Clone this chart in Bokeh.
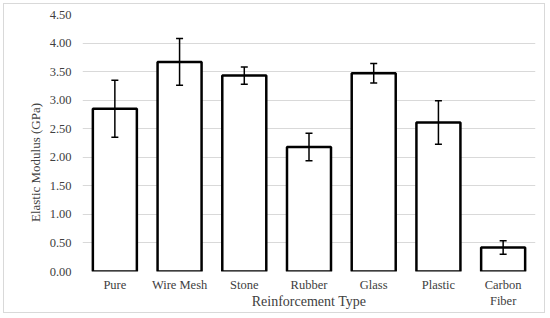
from bokeh.plotting import figure
from bokeh.models import ColumnDataSource, Whisker, TeeHead, FixedTicker, NumeralTickFormatter, Range1d
from bokeh.embed import file_html
from bokeh.resources import INLINE

categories = ["Pure", "Wire Mesh", "Stone", "Rubber", "Glass", "Plastic", "Carbon Fiber"]
tick_labels = ["Pure", "Wire Mesh", "Stone", "Rubber", "Glass", "Plastic", "Carbon\nFiber"]
modulus = [2.85, 3.67, 3.43, 2.18, 3.47, 2.61, 0.42]
error = [0.50, 0.41, 0.15, 0.24, 0.17, 0.38, 0.12]
y_ticks = [0.0, 0.5, 1.0, 1.5, 2.0, 2.5, 3.0, 3.5, 4.0, 4.5]

xpos = [i + 0.5 for i in range(len(categories))]
upper = [m + e for m, e in zip(modulus, error)]
lower = [m - e for m, e in zip(modulus, error)]
src = ColumnDataSource(dict(x=xpos, top=modulus, upper=upper, lower=lower))

p = figure(width=542, height=310, x_range=Range1d(0, len(categories)),
           y_range=Range1d(0, 4.5), output_backend="svg", toolbar_location=None,
           min_border_left=78, min_border_right=11, min_border_top=10, min_border_bottom=43)
p.margin = (3, 0, 0, 3)
p.styles = {"border": "1px solid #d9d9d9", "box-sizing": "border-box"}
p.outline_line_color = None
p.background_fill_color = "white"

p.vbar(x="x", top="top", width=0.68, source=src, fill_color="white",
       line_color="black", line_width=2.5)

w = Whisker(base="x", upper="upper", lower="lower", source=src, line_color="black", line_width=1.5,
            level="overlay",
            upper_head=TeeHead(size=7, line_color="black", line_width=1.5),
            lower_head=TeeHead(size=7, line_color="black", line_width=1.5))
p.add_layout(w)

font = "Liberation Serif"
txt = "#404040"

p.yaxis.ticker = FixedTicker(ticks=y_ticks)
p.yaxis.formatter = NumeralTickFormatter(format="0.00")
p.yaxis.axis_label = "Elastic Modulus (GPa)" + "\u00a0" * 12
p.yaxis.axis_label_standoff = 4
p.yaxis.major_label_standoff = 5

p.xaxis.ticker = FixedTicker(ticks=xpos)
p.xaxis.major_label_overrides = {x: t for x, t in zip(xpos, tick_labels)}
p.xaxis.axis_label = "Reinforcement Type"
p.xaxis.axis_label_standoff = -17
p.xaxis.major_label_standoff = 0

for ax in (p.xaxis, p.yaxis):
    ax.major_label_text_font = font
    ax.major_label_text_font_size = "12.5px"
    ax.major_label_text_color = txt
    ax.axis_label_text_font = font
    ax.axis_label_text_font_style = "normal"
    ax.axis_label_text_font_size = "14px"
    ax.axis_label_text_color = txt
    ax.axis_line_color = None
    ax.major_tick_line_color = None
    ax.minor_tick_line_color = None

p.yaxis.axis_label_text_font_size = "13px"
p.xgrid.grid_line_color = None
p.ygrid.grid_line_color = "#d9d9d9"
p.ygrid.grid_line_width = 1

open("out.html", "w").write(file_html(p, INLINE))
